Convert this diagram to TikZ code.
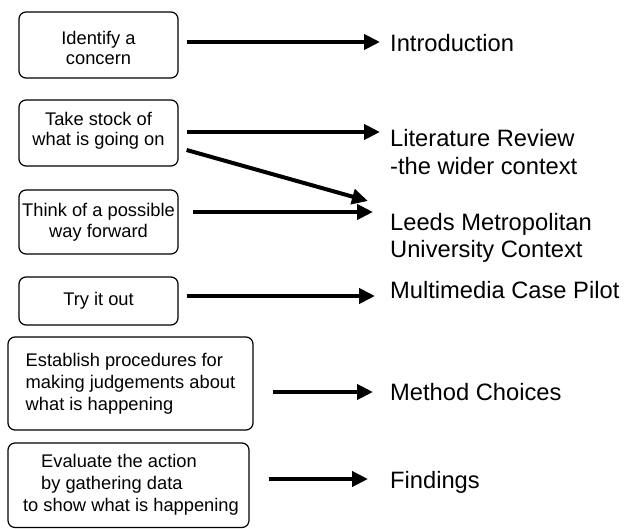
\documentclass[tikz,border=0pt]{standalone}
\usepackage{fontspec}
\setmainfont{Liberation Sans}
\usetikzlibrary{arrows.meta}
\newcommand\clines[4]{\vbox{\kern#2\baselineskip=#1\lineskiplimit=-100pt\halign{\hfil##\hfil\cr#4\crcr}\kern#3}}
\newcommand\llines[4]{\vbox{\kern#2\baselineskip=#1\lineskiplimit=-100pt\halign{##\hfil\cr#4\crcr}\kern#3}}
\begin{document}
\begin{tikzpicture}[x=1pt,y=-1pt,
  stage/.style={draw, line width=1.2pt, rounded corners=7pt, inner sep=0pt, font=\fontsize{18.3}{21}\selectfont},
  lab/.style={anchor=base west, inner sep=0pt, font=\fontsize{23.7}{27.5}\selectfont},
  arr/.style={line width=4pt, -{Triangle[length=16pt,width=15pt]}}]
\useasboundingbox (0,0) rectangle (628,529);

\node[stage, minimum width=159pt, minimum height=66pt] (b1) at (98.5,45) {\clines{20pt}{5.6pt}{0pt}{Identify a\cr concern}};
\node[stage, minimum width=159pt, minimum height=66pt] (b2) at (98.5,133) {\clines{20pt}{0pt}{3.6pt}{Take stock of\cr what is going on}};
\node[stage, minimum width=159pt, minimum height=64pt] (b3) at (98.5,222) {\clines{21pt}{0pt}{0pt}{Think of a possible\cr way forward}};
\node[stage, minimum width=159pt, minimum height=48pt] (b4) at (98.5,301) {Try it out};
\node[stage, minimum width=245pt, minimum height=93pt] (b5) at (130.5,383.5) {\llines{22pt}{0pt}{0pt}{Establish procedures for\cr making judgements about\cr what is happening}};
\node[stage, minimum width=241pt, minimum height=84.5pt] (b6) at (128.5,485.25) {\llines{22pt}{0pt}{0pt}{\kern23pt Evaluate the action\cr\kern23pt by gathering data\cr\kern5pt to show what is happening}};

\node[lab] (l1) at (390,52) {Introduction};
\node[lab] (l2) at (390,147) {\vtop{\baselineskip=28pt\hbox{Literature Review}\hbox{-the wider context}}};
\node[lab] (l3) at (390,230) {\vtop{\baselineskip=27pt\hbox{Leeds Metropolitan}\hbox{University Context}}};
\node[lab] (l4) at (390,298) {Multimedia Case Pilot};
\node[lab] (l5) at (390,400) {Method Choices};
\node[lab] (l6) at (390,488) {Findings};

\coordinate (t1) at (380,42);
\coordinate (t2) at (380,132);
\coordinate (td) at (368,201);
\coordinate (t3) at (373,212);
\coordinate (t4) at (375,296);
\coordinate (t5) at (373,392);
\coordinate (t6) at (368,479);

\draw[arr, shorten <=8pt] (b1.east |- t1) -- (t1);
\draw[arr, shorten <=8pt] (b2.east |- t2) -- (t2);
\draw[arr] ([shift={(8,17)}]b2.east) -- (td);
\draw[arr, shorten <=14pt] (b3.east |- t3) -- (t3);
\draw[arr, shorten <=8pt] (b4.east |- t4) -- (t4);
\draw[arr, shorten <=19pt] (b5.east |- t5) -- (t5);
\draw[arr, shorten <=19pt] (b6.east |- t6) -- (t6);
\end{tikzpicture}
\end{document}
